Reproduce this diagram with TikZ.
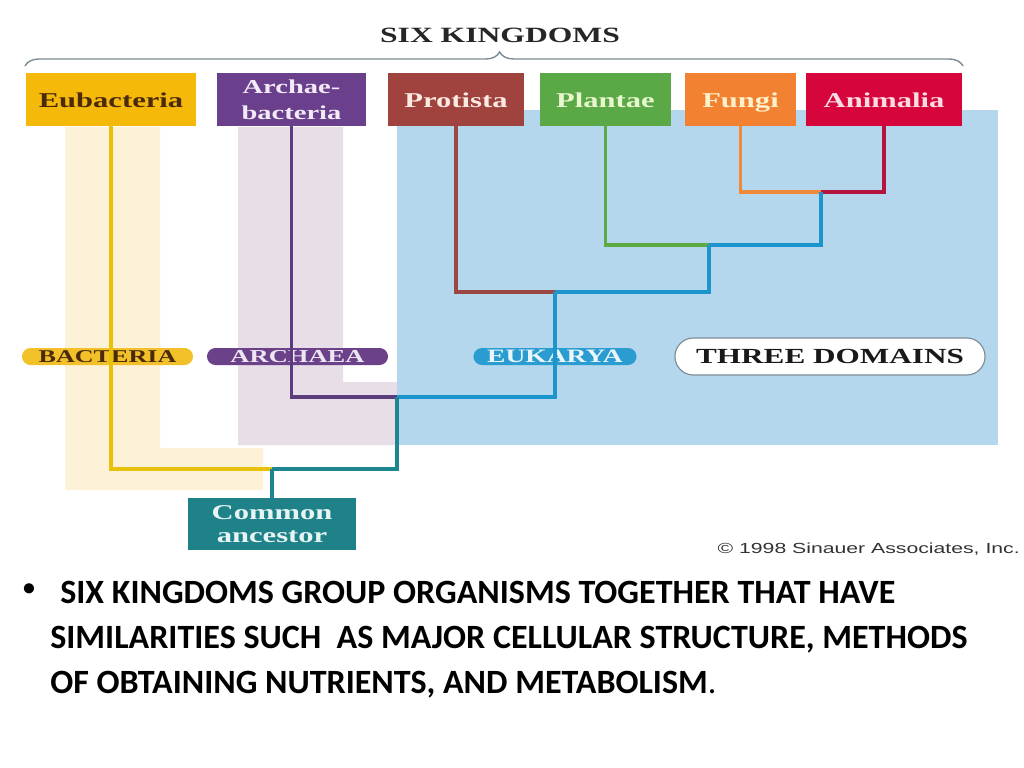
\documentclass[tikz,border=0pt]{standalone}
\usepackage{fontspec}
\setmainfont{Liberation Serif}
\newfontfamily\dserif[FakeStretch=1.45]{Liberation Serif}
\newfontfamily\dsans[FakeStretch=1.45]{Liberation Sans}
\newfontfamily\calfont{Carlito}
\usetikzlibrary{decorations.pathreplacing}

\definecolor{eubc}{HTML}{F5B90A}
\definecolor{eubt}{HTML}{4A2A0A}
\definecolor{arcc}{HTML}{6A3F8C}
\definecolor{arct}{HTML}{F2EAF6}
\definecolor{proc}{HTML}{A0433F}
\definecolor{prot}{HTML}{FCE9E2}
\definecolor{plac}{HTML}{5BA846}
\definecolor{plat}{HTML}{E9F7CF}
\definecolor{func}{HTML}{F28232}
\definecolor{funt}{HTML}{FFF1CC}
\definecolor{anic}{HTML}{D6063C}
\definecolor{anit}{HTML}{FADCE2}
\definecolor{ancc}{HTML}{1F8289}
\definecolor{anct}{HTML}{E6F4F4}
\definecolor{lgold}{HTML}{E8C20A}
\definecolor{lpurple}{HTML}{5C3C7E}
\definecolor{lbrown}{HTML}{9B4744}
\definecolor{lgreen}{HTML}{5DAA45}
\definecolor{lorange}{HTML}{F08A3A}
\definecolor{lcrimson}{HTML}{B5143E}
\definecolor{lblue}{HTML}{1C94CC}
\definecolor{lteal}{HTML}{1E8690}
\definecolor{bacf}{HTML}{F2C12A}
\definecolor{archf}{HTML}{6B4289}
\definecolor{archt}{HTML}{EDE6F2}
\definecolor{eukf}{HTML}{2A9CD0}
\definecolor{eukt}{HTML}{EAF6FC}
\definecolor{paleyellow}{HTML}{FDF1D8}
\definecolor{palelav}{HTML}{E7DEE7}
\definecolor{paleblue}{HTML}{B4D7EE}
\definecolor{bracec}{HTML}{7C8C94}

\begin{document}
\begin{tikzpicture}[x=0.025cm,y=-0.025cm,
  kbox/.style={rectangle, inner sep=0pt, minimum height=1.325cm, font=\dserif\bfseries\fontsize{15}{18}\selectfont},
  kone/.style={kbox, text height=13pt, text depth=2pt},
  pill/.style={rectangle, inner sep=0pt, minimum height=0.425cm, rounded corners=0.2125cm, text height=8.5pt, text depth=0.5pt, font=\dserif\bfseries\fontsize{12.8}{14}\selectfont},
  tline/.style={line width=2.2pt},
  bullettext/.style={anchor=base west, inner sep=0pt, font=\calfont\bfseries\fontsize{24.2}{28}\selectfont}
]
\useasboundingbox (0,0) rectangle (1024,768);
\fill[white] (0,0) rectangle (1024,768);

% background shading regions
\fill[paleyellow] (65,127) -- (160,127) -- (160,448) -- (263,448) -- (263,490) -- (65,490) -- cycle;
\fill[palelav] (238,127) -- (343,127) -- (343,382) -- (398,382) -- (398,445) -- (238,445) -- cycle;
\fill[paleblue] (397,110) rectangle (998,445);

% title and brace
\node[font=\dserif\bfseries\fontsize{15.5}{18}\selectfont, text=black!85] (title) at (500,35) {SIX KINGDOMS};
\coordinate (bl) at (25,66);
\coordinate (br) at (963,66);
\draw[bracec, line width=1pt, decorate, decoration={brace, amplitude=0.35cm, aspect=0.506}] (bl) -- (br);

% domain pills
\node[pill, fill=bacf, text=eubt, minimum width=4.275cm] (bac) at (107.5,356.5) {BACTERIA};
\node[pill, fill=archf, text=archt, minimum width=4.525cm, font=\dserif\bfseries\fontsize{13}{14}\selectfont] (arch) at (297.5,356.5) {ARCHAEA};
\node[pill, fill=eukf, text=eukt, minimum width=4.075cm, font=\dserif\bfseries\fontsize{13.5}{14}\selectfont] (euk) at (555,356.5) {EUKARYA};
\node[rectangle, draw=bracec, line width=0.8pt, fill=white, inner sep=0pt, minimum width=7.75cm, minimum height=0.925cm, rounded corners=0.46cm, font=\dserif\bfseries\fontsize{15.3}{18}\selectfont, text=black!90] (three) at (830,356.5) {THREE DOMAINS};

% kingdom boxes
\node[kone, fill=eubc, text=eubt, minimum width=4.25cm] (eub) at (111,99.5) {Eubacteria};
\node[kbox, fill=arcc, text=arct, minimum width=3.725cm, align=center, font=\dserif\bfseries\fontsize{14}{18.5}\selectfont] (arc) at (291.5,99.5) {Archae-\\bacteria};
\node[kone, fill=proc, text=prot, minimum width=3.4cm] (pro) at (456,99.5) {Protista};
\node[kone, fill=plac, text=plat, minimum width=3.275cm] (pla) at (605.5,99.5) {Plantae};
\node[kone, fill=func, text=funt, minimum width=2.775cm] (fun) at (740.5,99.5) {Fungi};
\node[kone, fill=anic, text=anit, minimum width=3.9cm] (ani) at (884,99.5) {Animalia};
\node[kbox, fill=ancc, text=anct, minimum width=4.175cm, minimum height=1.3cm, align=center, font=\dserif\bfseries\fontsize{15}{16.5}\selectfont] (anc) at (272,524) {Common\\ancestor};

% junctions
\coordinate (jFA) at (821,192);
\coordinate (jPl) at (709,245);
\coordinate (jPr) at (555,292);
\coordinate (jAr) at (397,397);
\coordinate (jRoot) at (272,469);

% tree connectors
\draw[tline, lorange] (fun.south) |- (jFA);
\draw[tline, lcrimson] (ani.south) |- (jFA);
\draw[tline, lgreen] (pla.south) |- (jPl);
\draw[tline, lblue] (jFA) |- (jPl);
\draw[tline, lbrown] (pro.south) |- (jPr);
\draw[tline, lblue] (jPl) |- (jPr);
\draw[tline, lpurple] (arc.south) |- (jAr);
\draw[tline, lblue] (jPr) |- (jAr);
\draw[tline, lgold] (eub.south) |- (jRoot);
\draw[tline, lteal] (jAr) |- (jRoot);
\draw[tline, lteal] (jRoot) -- (anc.north);

% copyright
\node[anchor=east, inner sep=0pt, font=\dsans\fontsize{10.4}{12}\selectfont, text=black!80] (copy) at (1020,549) {© 1998 Sinauer Associates, Inc.};

% bullet text
\node[inner sep=0pt, font=\calfont\bfseries\fontsize{17}{20}\selectfont] (bul) at (29,590) {•};
\node[bullettext] (l1) at (60,603) {SIX KINGDOMS GROUP ORGANISMS TOGETHER THAT HAVE};
\node[bullettext] (l2) at (50,648) {SIMILARITIES SUCH\ \ AS MAJOR CELLULAR STRUCTURE, METHODS};
\node[bullettext] (l3) at (50,693) {OF OBTAINING NUTRIENTS, AND METABOLISM\textmd{.}};
\end{tikzpicture}
\end{document}
